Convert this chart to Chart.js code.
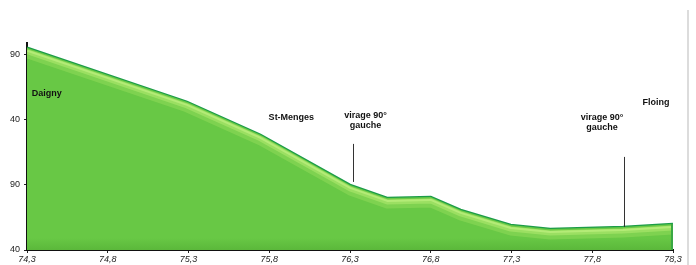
<!DOCTYPE html>
<html>
<head>
<meta charset="utf-8">
<script src="https://cdn.jsdelivr.net/npm/chart.js@4.4.1/dist/chart.umd.min.js"></script>
<style>
    body { margin: 0; background: #fff; }
    #wrap { width: 696px; height: 265px; position: relative; }
</style>
</head>
<body>
<div id="wrap"><canvas id="profil" width="696" height="265"></canvas></div>
<script>
// Profil altimetrique (km / altitude)
const distances = [74.3, 75.29, 75.745, 76.30, 76.53, 76.80, 76.985, 77.295, 77.54, 77.99, 78.3];
const altitudes = [195.4, 153.8, 128.5, 90, 80, 80.8, 70.8, 59.2, 56.2, 57.7, 60];

const xTickValues = [74.3, 74.8, 75.3, 75.8, 76.3, 76.8, 77.3, 77.8, 78.3];
const xTickLabels = ["74,3", "74,8", "75,3", "75,8", "76,3", "76,8", "77,3", "77,8", "78,3"];
const yTickValues = [40, 90, 140, 190];
const yTickLabels = ["40", "90", "40", "90"];

const placeNames = ["Daigny", "St-Menges", "Floing"];
const turnNotes = [["virage 90°", "gauche"], ["virage 90°", "gauche"]];

let points = distances.map((d, i) => ({ x: d, y: altitudes[i] }));

// surlignage clair sous la ligne + bordure droite
const highlight = {
    id: 'highlight',
    afterDatasetDraw(chart, args) {
        if (args.index !== 0) return;
        let ctx = chart.ctx;
        let a = chart.chartArea;
        let pts = args.meta.data;
        let last = pts[pts.length - 1];
        ctx.save();
        ctx.beginPath();
        ctx.rect(a.left, a.top, last.x - a.left, a.bottom - a.top);
        ctx.clip();
        let strokes = [
            { dy: 6, w: 9, c: 'rgba(170, 230, 100, 0.35)' },
            { dy: 4, w: 5, c: 'rgba(190, 240, 120, 0.45)' },
            { dy: 3, w: 2, c: 'rgba(205, 248, 140, 0.5)' }
        ];
        strokes.forEach(s => {
            ctx.beginPath();
            pts.forEach((p, i) => {
                if (i === 0) ctx.moveTo(p.x, p.y + s.dy);
                else ctx.lineTo(p.x, p.y + s.dy);
            });
            ctx.lineWidth = s.w;
            ctx.lineJoin = 'round';
            ctx.strokeStyle = s.c;
            ctx.stroke();
        });
        // bande sombre en bas
        let g = ctx.createLinearGradient(0, a.bottom - 12, 0, a.bottom);
        g.addColorStop(0, 'rgba(80, 170, 50, 0)');
        g.addColorStop(1, 'rgba(80, 170, 50, 0.55)');
        ctx.fillStyle = g;
        ctx.fillRect(a.left, a.bottom - 12, last.x - a.left, 12);
        // bord droit
        ctx.beginPath();
        ctx.moveTo(last.x - 1, last.y);
        ctx.lineTo(last.x - 1, a.bottom);
        ctx.lineWidth = 2;
        ctx.strokeStyle = '#3aa844';
        ctx.stroke();
        ctx.restore();
    }
};

// textes et traits verticaux
const notes = {
    id: 'notes',
    afterDraw(chart) {
        let ctx = chart.ctx;
        let xs = chart.scales.x;
        let ys = chart.scales.y;
        ctx.save();
        ctx.fillStyle = '#111';
        ctx.font = 'bold 9px "Liberation Sans", Arial, sans-serif';
        ctx.textBaseline = 'middle';

        ctx.textAlign = 'left';
        ctx.fillText(placeNames[0], xs.getPixelForValue(74.33), ys.getPixelForValue(160));
        ctx.textAlign = 'center';
        ctx.fillText(placeNames[1], xs.getPixelForValue(75.937), ys.getPixelForValue(141.5));
        ctx.fillText(placeNames[2], xs.getPixelForValue(78.195), ys.getPixelForValue(153));

        ctx.fillText(turnNotes[0][0], xs.getPixelForValue(76.396), ys.getPixelForValue(143.1));
        ctx.fillText(turnNotes[0][1], xs.getPixelForValue(76.396), ys.getPixelForValue(135.4));
        ctx.fillText(turnNotes[1][0], xs.getPixelForValue(77.86), ys.getPixelForValue(141.5));
        ctx.fillText(turnNotes[1][1], xs.getPixelForValue(77.86), ys.getPixelForValue(133.8));

        ctx.strokeStyle = '#333';
        ctx.lineWidth = 1;
        ctx.beginPath();
        let x1 = Math.round(xs.getPixelForValue(76.32)) + 0.5;
        ctx.moveTo(x1, ys.getPixelForValue(121.5));
        ctx.lineTo(x1, ys.getPixelForValue(92.3));
        let x2 = Math.round(xs.getPixelForValue(77.996)) + 0.5;
        ctx.moveTo(x2, ys.getPixelForValue(111.5));
        ctx.lineTo(x2, ys.getPixelForValue(57.7));
        ctx.stroke();

        // cadre gris a droite
        ctx.strokeStyle = '#dcdcdc';
        ctx.lineWidth = 2;
        ctx.beginPath();
        ctx.moveTo(688, 10);
        ctx.lineTo(688, 265);
        ctx.stroke();
        ctx.restore();
    }
};

new Chart("profil", {
    type: "line",
    data: {
        datasets: [{
            data: points,
            fill: 'origin',
            backgroundColor: '#68c845',
            borderWidth: 0,
            pointRadius: 0,
            tension: 0
        }, {
            data: points,
            fill: false,
            borderColor: '#1c9c48',
            borderWidth: 2.5,
            pointRadius: 0,
            tension: 0
        }]
    },
    options: {
        responsive: false,
        animation: false,
        layout: {
            padding: { top: 43, right: 23, left: 0, bottom: 0 }
        },
        plugins: {
            legend: { display: false },
            tooltip: { enabled: false }
        },
        scales: {
            x: {
                type: 'linear',
                min: 74.3,
                max: 78.3,
                afterBuildTicks: scale => {
                    scale.ticks = xTickValues.map(v => ({ value: v }));
                },
                afterFit: scale => { scale.height = 15; },
                grid: {
                    display: true,
                    drawOnChartArea: false,
                    tickLength: 3,
                    color: '#222'
                },
                border: { color: '#111', width: 2 },
                ticks: {
                    padding: 1,
                    maxRotation: 0,
                    autoSkip: false,
                    color: '#222',
                    font: { family: '"Liberation Sans", Arial, sans-serif', size: 9, style: 'italic' },
                    callback: (v, i) => xTickLabels[i]
                }
            },
            y: {
                min: 40,
                max: 199,
                afterBuildTicks: scale => {
                    scale.ticks = yTickValues.map(v => ({ value: v }));
                },
                afterFit: scale => { scale.width = 27; },
                grid: {
                    display: true,
                    drawOnChartArea: false,
                    tickLength: 3,
                    color: '#222'
                },
                border: { color: '#111', width: 2 },
                ticks: {
                    padding: 4,
                    color: '#222',
                    font: { family: '"Liberation Sans", Arial, sans-serif', size: 9 },
                    callback: (v, i) => yTickLabels[i]
                }
            }
        }
    },
    plugins: [highlight, notes]
});
</script>
</body>
</html>
